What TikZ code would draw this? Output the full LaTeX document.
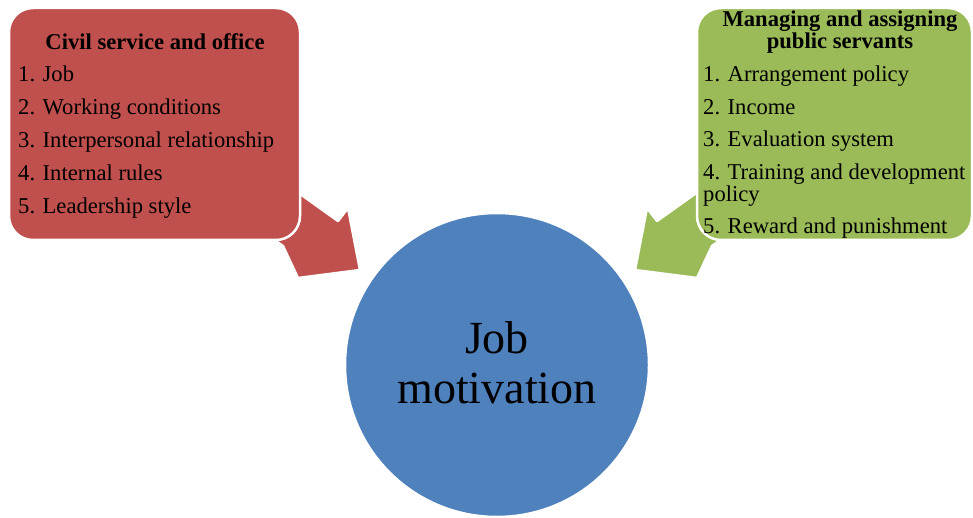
\documentclass[tikz,border=0pt]{standalone}
\usepackage{fontspec}
\setmainfont{Liberation Serif}
\definecolor{boxred}{HTML}{C0504D}
\definecolor{boxgreen}{HTML}{9BBB59}
\definecolor{circblue}{HTML}{4F81BD}
\begin{document}
\begin{tikzpicture}[x=1pt,y=-1pt,
  shapeborder/.style={draw=white,line width=2.5pt,line join=round},
  item/.style={anchor=base west,inner sep=0pt,font=\fontsize{22.6}{26}\selectfont},
  title/.style={anchor=base,inner sep=0pt,font=\fontsize{22.6}{26}\selectfont\bfseries},
  bigtext/.style={anchor=base,inner sep=0pt,font=\fontsize{46}{50}\selectfont}]
\useasboundingbox[fill=white] (0,0) rectangle (973,518);
% arrows
\filldraw[shapeborder,fill=boxred] (289,186) -- (338,221) -- (348,208) -- (360,270) -- (298,278) -- (283,246) -- (234,211) -- cycle;
\filldraw[shapeborder,fill=boxgreen] (706,186) -- (657,221) -- (647,208) -- (635,270) -- (697,278) -- (712,246) -- (761,211) -- cycle;
% boxes
\filldraw[shapeborder,fill=boxred,rounded corners=24pt] (9,8) rectangle (300,240);
\filldraw[shapeborder,fill=boxgreen,rounded corners=24pt] (697,8) rectangle (972,240);
% circle
\filldraw[shapeborder,fill=circblue] (497,365) circle[radius=152];
% red texts
\node[title] (rt) at (155,50) {Civil service and office};
\node[item] (r1) at (18,82) {1. Job};
\node[item] (r2) at (18,115) {2. Working conditions};
\node[item] (r3) at (18,148) {3. Interpersonal relationship};
\node[item] (r4) at (18,181) {4. Internal rules};
\node[item] (r5) at (18,214) {5. Leadership style};
% green texts
\node[title] (gt1) at (840,27) {Managing and assigning};
\node[title] (gt2) at (840,49) {public servants};
\node[item] (g1) at (703,82) {1. Arrangement policy};
\node[item] (g2) at (703,115) {2. Income};
\node[item] (g3) at (703,147) {3. Evaluation system};
\node[item] (g4) at (703,180) {4. Training and development};
\node[item] (g4b) at (703,202) {policy};
\node[item] (g5) at (703,234) {5. Reward and punishment};
% centre text
\node[bigtext] (c1) at (497,353) {Job};
\node[bigtext] (c2) at (497,403) {motivation};
\end{tikzpicture}
\end{document}
